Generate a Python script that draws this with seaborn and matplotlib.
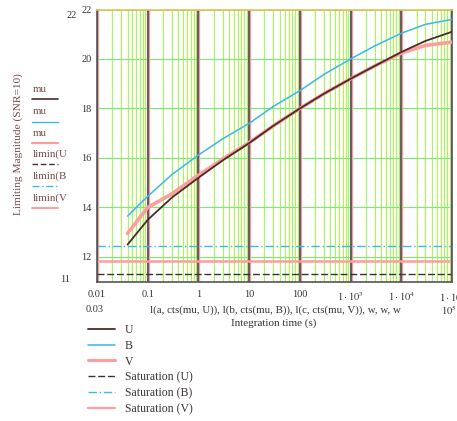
import numpy as np
import pandas as pd
import matplotlib
matplotlib.use('Agg')
import matplotlib.pyplot as plt
import seaborn as sns
from matplotlib.lines import Line2D

# ---- data ----
time_s = [0.04, 0.1, 0.3, 1, 3, 10, 30, 100, 300, 1e3, 3e3, 1e4, 3e4, 1e5]
mag_U = [12.5, 13.5, 14.4, 15.2, 15.9, 16.6, 17.3, 18.0, 18.6, 19.2, 19.72, 20.28, 20.73, 21.1]
mag_B = [13.65, 14.45, 15.33, 16.12, 16.77, 17.4, 18.08, 18.72, 19.38, 20.0, 20.53, 21.04, 21.4, 21.6]
mag_V = [12.95, 14.0, 14.55, 15.3, 15.95, 16.62, 17.3, 18.0, 18.6, 19.2, 19.72, 20.24, 20.55, 20.68]
sat_U = 11.33
sat_B = 12.46
sat_V = 11.82

x_ticks = [0.01, 0.1, 1, 10, 100, 1e3, 1e4, 1e5]
x_tick_labels = ['0.01', '0.1', '1', '10', '100',
                 r'$1\cdot10^{3}$', r'$1\cdot10^{4}$', r'$1\cdot10^{5}$']
y_ticks = [12, 14, 16, 18, 20, 22]
y_tick_labels = ['12', '14', '16', '18', '20', '22']
legend_labels = ['U', 'B', 'V', 'Saturation (U)', 'Saturation (B)', 'Saturation (V)']
trace_labels = ['mu', 'mu', 'mu', 'limin(U', 'limin(B', 'limin(V']

# ---- style ----
sns.set_theme(style='white')
plt.rcParams['font.family'] = ['Liberation Serif', 'DejaVu Serif']
plt.rcParams['mathtext.fontset'] = 'stix'

c_U = '#4a2a2a'
c_B = '#38b8ec'
c_V = '#ff9c9c'
txt = '#3a3434'

W, H = 457, 421
fig = plt.figure(figsize=(W / 100, H / 100), dpi=100)
x0, x1, y0, y1 = 97, 452, 9.5, 281.7
ax = fig.add_axes([x0 / W, 1 - y1 / H, (x1 - x0) / W, (y1 - y0) / H])
ax.set_xscale('log')
ax.set_xlim(x_ticks[0], x_ticks[-1])
ax.set_ylim(11, 22)

# grid: minor verticals (yellow + green), major verticals (dark), horizontals (green)
for d in range(-2, 5):
    for k in range(2, 10):
        xv = k * 10.0 ** d
        ax.axvline(xv, color='#ffffa0', lw=1.1, zorder=0.5)
        ax.axvline(xv, color='#8cf080', lw=0.6, zorder=0.6)
for yv in y_ticks:
    ax.axhline(yv, color='#78ec70', lw=0.8, zorder=0.7)
for xv in x_ticks:
    ax.axvline(xv, color='#e8a0a0', lw=2.4, zorder=0.8)
    ax.axvline(xv, color='#505050', lw=1.2, zorder=0.9)

# saturation lines
ax.axhline(sat_V, color=c_V, lw=1.8, zorder=2)
ax.axhline(sat_B, color=c_B, lw=1.0, ls=(0, (6, 2, 1, 2)), zorder=2)
ax.axhline(sat_U, color='#333333', lw=1.0, ls=(0, (5, 2)), zorder=2)

# limiting magnitude curves
df = pd.DataFrame({'t': time_s * 3,
                   'mag': mag_U + mag_B + mag_V,
                   'band': ['U'] * len(time_s) + ['B'] * len(time_s) + ['V'] * len(time_s)})
sns.lineplot(data=df[df.band == 'V'], x='t', y='mag', color=c_V, lw=2.6, ax=ax,
             estimator=None, sort=False, zorder=3)
sns.lineplot(data=df[df.band == 'B'], x='t', y='mag', color=c_B, lw=1.1, ax=ax,
             estimator=None, sort=False, zorder=4)
sns.lineplot(data=df[df.band == 'U'], x='t', y='mag', color=c_U, lw=1.3, ax=ax,
             estimator=None, sort=False, zorder=5)

ax.set_xlabel('')
ax.set_ylabel('')
ax.set_xticks(x_ticks)
ax.set_xticklabels(x_tick_labels)
ax.xaxis.set_minor_locator(matplotlib.ticker.NullLocator())
ax.set_yticks(y_ticks)
ax.set_yticklabels(y_tick_labels)
ax.tick_params(axis='both', length=0, labelsize=7.5, colors=txt)
ax.tick_params(axis='x', pad=6)
ax.tick_params(axis='y', pad=4)
for s in ax.spines.values():
    s.set_color('#555555')
    s.set_linewidth(1.2)
ax.spines['top'].set_color('#e0c060')

# axis limit labels
fig.text(72 / W, 1 - 15 / H, '22', ha='center', va='center', fontsize=7.5, color=txt)
fig.text(65 / W, 1 - 279 / H, '11', ha='center', va='center', fontsize=7.5, color=txt)

# x-range and expression row
fig.text(95 / W, 1 - 310 / H, '0.03', ha='center', va='center', fontsize=7.5, color=txt)
fig.text(275 / W, 1 - 310 / H,
         'l(a, cts(mu, U)), l(b, cts(mu, B)), l(c, cts(mu, V)), w, w, w',
         ha='center', va='center', fontsize=7.8, color=txt)
fig.text(449 / W, 1 - 310 / H, r'$10^{5}$', ha='center', va='center', fontsize=7.5, color=txt)
fig.text(274 / W, 1 - 323 / H, 'Integration time (s)', ha='center', va='center',
         fontsize=8, color=txt)

# y label and trace labels
fig.text(18 / W, 1 - 144 / H, 'Limiting Magnitude (SNR=10)', rotation=90,
         ha='center', va='center', fontsize=8.2, color='#7a4a4a')
trace_styles = [(c_U, '-', 1.2), (c_B, '-', 1.0), (c_V, '-', 1.6),
                ('#333333', (0, (4, 2)), 1.0), (c_B, (0, (5, 2, 1, 2)), 1.0), (c_V, '-', 1.4)]
trace_y = [89, 112, 133, 154, 176, 198]
for lab, yy, (col, ls, lw) in zip(trace_labels, trace_y, trace_styles):
    fig.text(33 / W, 1 - yy / H, lab, ha='left', va='center', fontsize=7.8, color='#7a4a4a')
    fig.add_artist(Line2D([32 / W, 58 / W], [1 - (yy + 10) / H] * 2, color=col, ls=ls, lw=lw,
                          transform=fig.transFigure))

# legend below
handles = [Line2D([], [], color=c_U, lw=1.3),
           Line2D([], [], color=c_B, lw=1.1),
           Line2D([], [], color=c_V, lw=2.2),
           Line2D([], [], color='#333333', lw=1.0, ls=(0, (5, 2))),
           Line2D([], [], color=c_B, lw=1.0, ls=(0, (6, 2, 1, 2))),
           Line2D([], [], color=c_V, lw=1.6)]
fig.legend(handles, legend_labels, loc='upper left', bbox_to_anchor=(88 / W, 1 - 324 / H),
           frameon=False, fontsize=8.5, handlelength=2.3, handletextpad=0.8,
           labelspacing=0.32, borderaxespad=0, borderpad=0, labelcolor=txt)

fig.savefig('out.png', dpi=100)
